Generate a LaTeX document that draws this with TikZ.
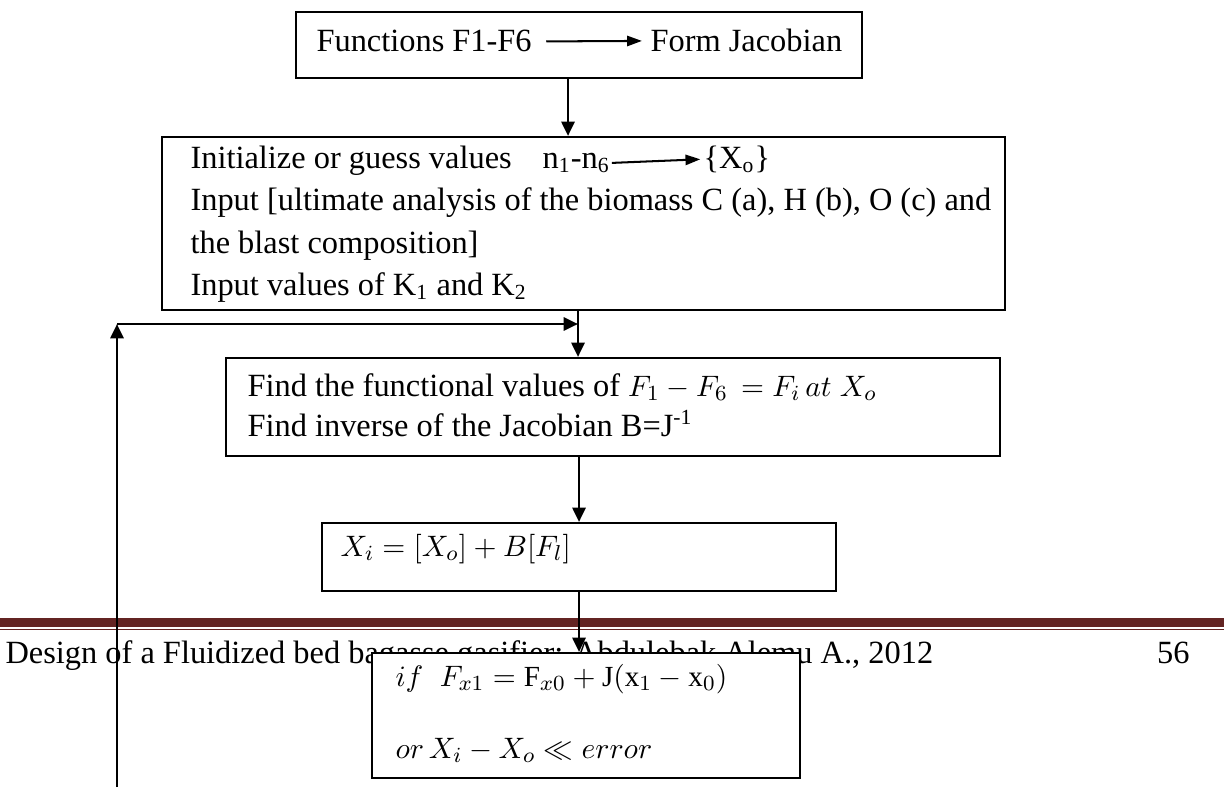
\documentclass[tikz,border=0pt]{standalone}
\usepackage{fontspec}
\setmainfont{Liberation Serif}
\usetikzlibrary{arrows.meta,fit}
\definecolor{footred}{HTML}{632423}
\begin{document}
\begin{tikzpicture}[x=0.3704pt,y=-0.3704pt,
  box/.style={draw,line width=0.75pt,fill=white,inner sep=0pt},
  txt/.style={inner sep=0pt,anchor=base west,font=\fontsize{12}{14}\selectfont},
  mtxt/.style={inner sep=0pt,anchor=base west,font=\fontsize{10.8}{13}\selectfont},
  link/.style={line width=1.05pt,-{Triangle[length=5.3pt,width=4.8pt]}},
  inlink/.style={line width=0.75pt,-{Triangle[length=5.5pt,width=3.8pt]}}]
\useasboundingbox (0,0) rectangle (1224,787);

% page footer rule and footer text
\draw[footred,line width=3.3pt] (0,622.5) -- (1224,622.5);
\draw[footred,line width=0.7pt] (0,629.5) -- (1224,629.5);
\node[txt] (foot) at (5,663) {Design of a Fluidized bed bagasse gasifier: Abdulebak Alemu A., 2012};
\node[txt,anchor=base east] (page) at (1190,663) {56};

% box frames
\path (296,12) coordinate (b1a) (862,78) coordinate (b1b);
\path (162,137) coordinate (b2a) (1005,310) coordinate (b2b);
\path (226,358) coordinate (b3a) (1000,456) coordinate (b3b);
\path (322,523) coordinate (b4a) (836,591) coordinate (b4b);
\path (372,653) coordinate (b5a) (800,778) coordinate (b5b);
\node[box,fit=(b1a)(b1b)] (b1) {};
\node[box,fit=(b2a)(b2b)] (b2) {};
\node[box,fit=(b3a)(b3b)] (b3) {};
\node[box,fit=(b4a)(b4b)] (b4) {};
\node[box,fit=(b5a)(b5b)] (b5) {};

% box 1
\node[txt] (fun) at (316,52) {Functions F1-F6};
\node[txt] (jac) at (650,52) {Form Jacobian};
\draw[inlink] ([xshift=5.2pt]fun.east) -- ([xshift=-3pt]jac.west);

% box 2
\node[txt] (init) at (190,168) {Initialize or guess values};
\node[txt] (nn) at (542,168) {n\textsubscript{1}-n\textsubscript{6}};
\node[txt] (x0) at (703,168) {\{X\textsubscript{o}\}};
\draw[inlink] ([xshift=0.5pt]nn.east) -- ([xshift=-1pt]x0.west);
\node[txt] (in1) at (190,210) {Input [ultimate analysis of the biomass C (a), H (b), O (c) and};
\node[txt] (in2) at (190,253) {the blast composition]};
\node[txt] (in3) at (190,295) {Input values of K\textsubscript{1} and K\textsubscript{2}};

% box 3
\node[txt] (fv) at (247,396) {Find the functional values of {\fontsize{10.8}{13}\selectfont$F_1-F_6\,=F_i\,at\;X_o$}};
\node[txt] (inv) at (247,436) {Find inverse of the Jacobian B=J\textsuperscript{-1}};

% box 4
\node[mtxt] (upd) at (340,556) {$X_i=[X_o]+B[F_l]$};

% box 5
\node[mtxt] (cnd) at (395,686) {$if\;\; F_{x1}=\mathrm{F}_{x0}+\mathrm{J}(\mathrm{x}_1-\mathrm{x}_0)$};
\node[mtxt] (err) at (395,758) {$or\,X_i-X_o\ll error$};

% connectors
\coordinate (c1) at (568,0);
\coordinate (c2) at (579,0);
\coordinate (loopbot) at (117,787);
\coordinate (loopturn) at (117,324);
\coordinate (join) at (578,324);
\draw[link] (b1.south -| c1) -- (b2.north -| c1);
\draw[link] (b2.south -| join) -- (b3.north -| join);
\draw[link] (loopbot) -- (loopturn);
\draw[link] (loopturn) -- (join);
\draw[link] (b3.south -| c2) -- (b4.north -| c2);
\draw[link] (b4.south -| c2) -- (b5.north -| c2);
\end{tikzpicture}
\end{document}
